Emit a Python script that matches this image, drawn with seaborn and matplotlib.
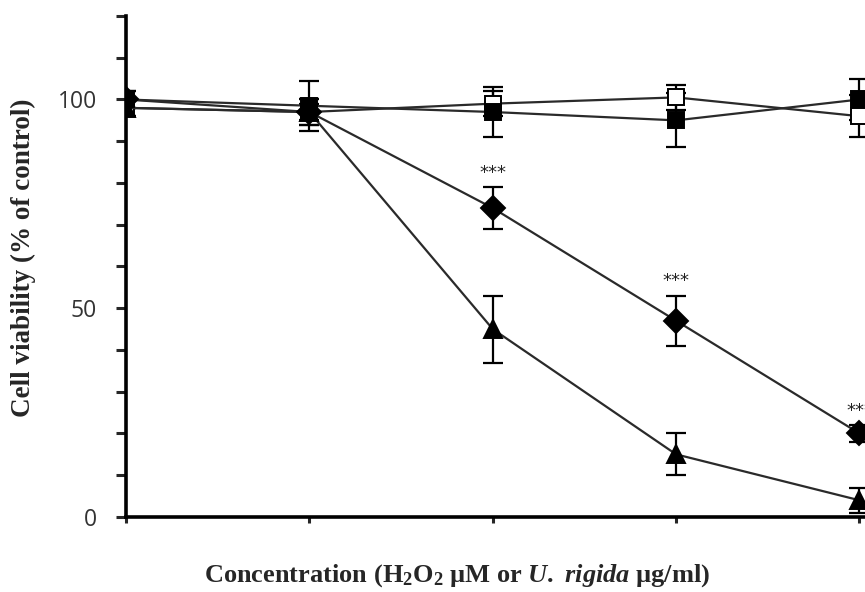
import numpy as np
import pandas as pd
import matplotlib
matplotlib.use("Agg")
import matplotlib.pyplot as plt
import seaborn as sns

# Data
conc_idx = [0, 1, 2, 3, 4]

sq_filled = [100, 98.5, 97, 95, 100]
sq_filled_err = [2, 6, 6, 6.5, 5]

sq_open = [98, 97, 99, 100.5, 96]
sq_open_err = [2, 3, 3, 3, 5]

tri_filled = [98, 97, 45, 15, 4]
tri_filled_err = [2, 2, 8, 5, 3]

dia_filled = [100, 97, 74, 47, 20]
dia_filled_err = [2, 3, 5, 6, 2]

star_labels = ["", "", "***", "***", "***"]

sns.set_style("ticks")
plt.rcParams["mathtext.fontset"] = "custom"
plt.rcParams["mathtext.rm"] = "Liberation Serif:bold"
plt.rcParams["mathtext.it"] = "Liberation Serif:italic:bold"
plt.rcParams["mathtext.bf"] = "Liberation Serif:bold"

fig = plt.figure(figsize=(8.65, 5.92), dpi=100)
ax = fig.add_axes([0.1457, 0.1267, 0.8543, 0.8463])

series = [
    (sq_open, sq_open_err, "s", "white", 12),
    (tri_filled, tri_filled_err, "^", "black", 13),
    (sq_filled, sq_filled_err, "s", "black", 12),
    (dia_filled, dia_filled_err, "D", "black", 12),
]

for vals, errs, mk, face, msize in series:
    df = pd.DataFrame({"x": conc_idx, "y": vals})
    ax.errorbar(conc_idx, vals, yerr=errs, fmt="none", ecolor="black",
                elinewidth=1.6, capsize=7, capthick=1.6, zorder=2)
    sns.lineplot(data=df, x="x", y="y", ax=ax, color="#2a2a2a", linewidth=1.6,
                 marker=mk, markersize=msize,
                 markerfacecolor=face, markeredgecolor="black",
                 markeredgewidth=1.4, zorder=3)

# significance marks (the last one runs off the right edge, as in the original)
for xi, v, e, s in zip(conc_idx, dia_filled, dia_filled_err, star_labels):
    if s:
        ax.text(xi, v + e + 3.5, s, ha="center", va="center", fontsize=13,
                family="DejaVu Sans", color="#222")

ax.set_xlim(0, 4.03)
ax.set_ylim(0, 120)
ax.set_yticks(np.arange(0, 121, 10))
ax.set_yticklabels(["0", "", "", "", "", "50", "", "", "", "", "100", "", ""])
ax.set_xticks(conc_idx)
ax.set_xticklabels([])

for side in ["top", "right"]:
    ax.spines[side].set_visible(False)
for side in ["left", "bottom"]:
    ax.spines[side].set_linewidth(2.6)
    ax.spines[side].set_color("black")

ax.tick_params(axis="y", direction="out", length=7, width=2.2, pad=14,
               labelsize=16.5, labelcolor="#333333")
ax.tick_params(axis="x", direction="out", length=4, width=2.2)
for lbl in ax.get_yticklabels():
    lbl.set_family("Open Sans")

ax.set_ylabel("Cell viability (% of control)", family="Liberation Serif",
              fontweight="bold", fontsize=19.5)
ax.yaxis.set_label_coords(-0.122, 0.517)
ax.set_xlabel(r"Concentration (H$_2$O$_2$ µM or $U.\ rigida$ µg/ml)",
              family="Liberation Serif", fontweight="bold", fontsize=19)
ax.xaxis.set_label_coords(0.448, -0.091)

fig.savefig("out.png", dpi=100)
